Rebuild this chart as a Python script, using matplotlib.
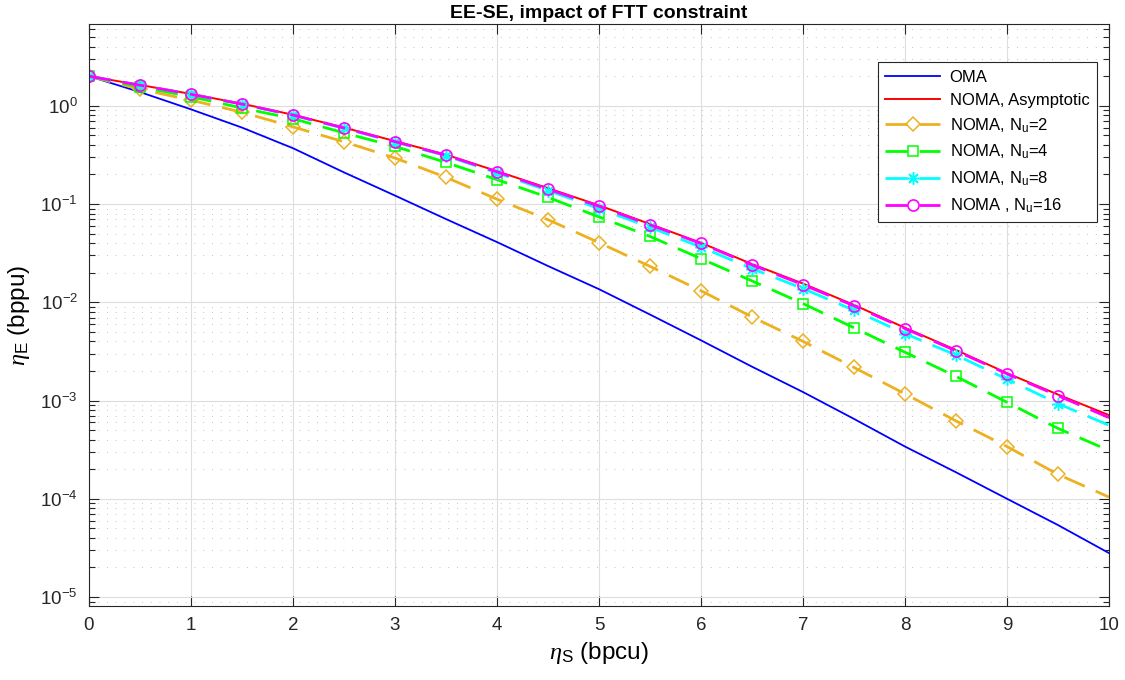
import matplotlib
matplotlib.use("Agg")
import matplotlib.pyplot as plt
from matplotlib.ticker import LogLocator, NullFormatter, FixedLocator

plt.rcParams.update(
    {
        "font.family": ["Liberation Sans", "DejaVu Sans"],
        "mathtext.fontset": "custom",
        "mathtext.rm": "Liberation Sans",
        "mathtext.it": "Liberation Serif:italic",
        "mathtext.bf": "Liberation Sans:bold",
        "axes.linewidth": 0.8,
    }
)

# spectral efficiency grid (bpcu)
ETA_S = [0, 0.5, 1, 1.5, 2, 2.5, 3, 3.5, 4, 4.5, 5,
         5.5, 6, 6.5, 7, 7.5, 8, 8.5, 9, 9.5, 10]

# energy efficiency (bppu)
OMA = [2.0, 1.38, 0.92, 0.60, 0.37, 0.21, 0.122, 0.0703, 0.041, 0.0234, 0.0136,
       0.0075, 0.0041, 0.00221, 0.00122, 6.5e-4, 3.4e-4, 1.86e-4, 1.0e-4, 5.4e-5, 2.8e-5]
NOMA_ASYM = [2.0, 1.63, 1.32, 1.05, 0.81, 0.60, 0.437, 0.318, 0.216, 0.145, 0.097,
             0.0625, 0.0403, 0.0245, 0.0155, 0.0094, 0.0055, 0.00327, 0.0019, 0.00115, 7.1e-4]
NOMA_NU2 = [2.0, 1.48, 1.14, 0.86, 0.61, 0.43, 0.294, 0.187, 0.112, 0.0693, 0.0405,
            0.0232, 0.0131, 0.0071, 0.0040, 0.00217, 0.00117, 6.2e-4, 3.4e-4, 1.77e-4, 1.04e-4]
NOMA_NU4 = [2.0, 1.56, 1.24, 0.95, 0.74, 0.53, 0.386, 0.265, 0.177, 0.117, 0.074,
            0.0468, 0.0278, 0.0165, 0.0097, 0.0055, 0.0031, 0.00176, 9.6e-4, 5.2e-4, 3.1e-4]
NOMA_NU8 = [2.0, 1.62, 1.31, 1.04, 0.80, 0.59, 0.428, 0.31, 0.208, 0.137, 0.090,
            0.058, 0.0365, 0.022, 0.0138, 0.0083, 0.0048, 0.0029, 0.00165, 9.3e-4, 5.6e-4]
NOMA_NU16 = [2.0, 1.62, 1.31, 1.04, 0.805, 0.595, 0.432, 0.314, 0.213, 0.142, 0.095,
             0.0614, 0.0397, 0.024, 0.0151, 0.0092, 0.0054, 0.0032, 0.00187, 0.00112, 6.7e-4]

LABELS = [
    "OMA",
    "NOMA, Asymptotic",
    r"NOMA, N$_\mathregular{u}$=2",
    r"NOMA, N$_\mathregular{u}$=4",
    r"NOMA, N$_\mathregular{u}$=8",
    r"NOMA , N$_\mathregular{u}$=16",
]

fig = plt.figure(figsize=(11.25, 6.8), dpi=100)
ax = fig.add_axes([0.0791, 0.1088, 0.9067, 0.8559])

dash = (8, 4.3)
marks = slice(0, len(ETA_S) - 1)

ax.plot(ETA_S, OMA, color="#0000FF", lw=1.3, label=LABELS[0])
ax.plot(ETA_S, NOMA_ASYM, color="#FF0000", lw=1.4, label=LABELS[1])
ax.plot(ETA_S, NOMA_NU2, color="#EDB120", lw=2.0, dashes=dash, marker="D", ms=7.5,
        mfc="none", mew=1.1, markevery=marks, label=LABELS[2])
ax.plot(ETA_S, NOMA_NU4, color="#00FF00", lw=2.0, dashes=dash, marker="s", ms=7,
        mfc="none", mew=1.1, markevery=marks, label=LABELS[3])
ax.plot(ETA_S, NOMA_NU8, color="#00FFFF", lw=2.0, dashes=dash, marker=(8, 2, 0), ms=9,
        mew=1.1, markevery=marks, label=LABELS[4])
ax.plot(ETA_S, NOMA_NU16, color="#FF00FF", lw=2.0, dashes=dash, marker="o", ms=8,
        mfc="none", mew=1.2, markevery=marks, label=LABELS[5])

ax.set_yscale("log")
ax.set_xlim(0, 10)
ax.set_ylim(8.1e-6, 6.8)
ax.xaxis.set_major_locator(FixedLocator(range(0, 11)))
ax.yaxis.set_major_locator(LogLocator(base=10, numticks=20))
ax.yaxis.set_minor_locator(LogLocator(base=10, subs=range(2, 10), numticks=20))
ax.yaxis.set_minor_formatter(NullFormatter())

ax.grid(which="major", color="#DEDEDE", lw=0.8, ls="-")
ax.grid(which="minor", axis="y", color="#C4C4C4", lw=0.7, ls=(0, (1, 8)))
ax.set_axisbelow(True)

ax.tick_params(which="both", direction="in", top=True, right=True, colors="#262626",
               labelsize=13.5, width=0.8)
ax.tick_params(which="major", length=7.5, pad=8)
ax.tick_params(which="minor", length=4)
for s in ax.spines.values():
    s.set_color("#262626")

ax.set_title("EE-SE, impact of FTT constraint", fontsize=14, fontweight="bold", pad=4)
ax.set_xlabel(r"$\eta_\mathregular{S}$ (bpcu)", fontsize=17.5, labelpad=4)
ax.set_ylabel(r"$\eta_\mathregular{E}$ (bppu)", fontsize=17.5, labelpad=6)

leg = ax.legend(loc="upper left", bbox_to_anchor=(0.7735, 0.9347), fontsize=12,
                fancybox=False, framealpha=1, edgecolor="#262626", borderpad=0.45,
                labelspacing=0.5, handlelength=3.3, handletextpad=0.55, borderaxespad=0)
leg.get_frame().set_linewidth(0.8)

fig.savefig("out.png", dpi=100)
